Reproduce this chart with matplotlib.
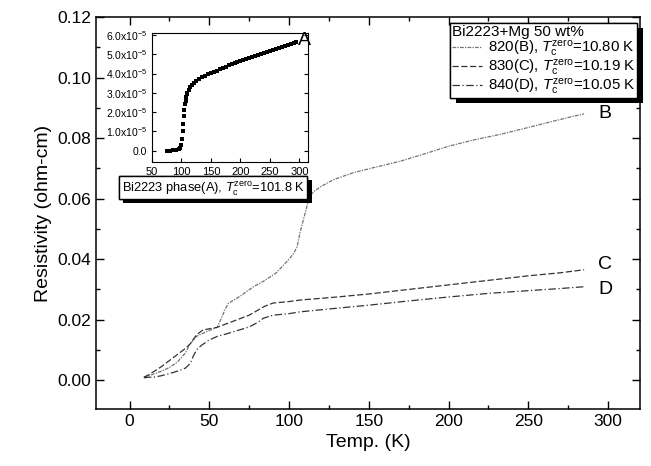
import matplotlib
matplotlib.use("Agg")
import matplotlib.pyplot as plt
import matplotlib.patheffects as pe
from matplotlib.ticker import MultipleLocator, FixedLocator

plt.rcParams["font.family"] = ["Liberation Sans", "DejaVu Sans"]
plt.rcParams["mathtext.fontset"] = "custom"
plt.rcParams["mathtext.rm"] = "Liberation Sans"
plt.rcParams["mathtext.it"] = "Liberation Sans:italic"

# sample B: 820 C
b_temp = [9, 15, 20, 25, 30, 35, 38, 42, 48, 55, 58, 60, 62, 70, 78, 85, 92, 100,
          103, 105, 107, 109, 111, 113, 116, 120, 128, 140, 155, 170, 185, 200,
          215, 233, 250, 265, 275, 285]
b_res = [0.0010, 0.0020, 0.0030, 0.0042, 0.0060, 0.0090, 0.0120, 0.0145, 0.0160,
         0.0175, 0.0210, 0.0235, 0.0254, 0.0280, 0.0310, 0.0330, 0.0355, 0.0400,
         0.0420, 0.0440, 0.0490, 0.0530, 0.0570, 0.0610, 0.0625, 0.0640, 0.0663,
         0.0685, 0.0705, 0.0724, 0.0748, 0.0773, 0.0793, 0.0813, 0.0835, 0.0855,
         0.0868, 0.0880]

# sample C: 830 C
c_temp = [9, 12, 15, 20, 25, 30, 35, 38, 42, 46, 50, 55, 60, 65, 70, 75, 80, 85,
          90, 100, 107, 130, 150, 175, 200, 225, 250, 270, 285]
c_res = [0.0010, 0.0018, 0.0028, 0.0045, 0.0065, 0.0085, 0.0105, 0.0120, 0.0150,
         0.0166, 0.0170, 0.0175, 0.0185, 0.0195, 0.0205, 0.0215, 0.0230, 0.0245,
         0.0255, 0.0260, 0.0265, 0.0275, 0.0285, 0.0300, 0.0315, 0.0330, 0.0345,
         0.0355, 0.0365]

# sample D: 840 C
d_temp = [9, 12, 15, 20, 25, 30, 35, 38, 40, 42, 45, 50, 55, 60, 65, 70, 75, 80,
          84, 90, 100, 107, 130, 150, 175, 200, 225, 250, 270, 285]
d_res = [0.0008, 0.0010, 0.0010, 0.0015, 0.0022, 0.0030, 0.0040, 0.0055, 0.0080,
         0.0100, 0.0115, 0.0133, 0.0145, 0.0152, 0.0160, 0.0168, 0.0176, 0.0190,
         0.0205, 0.0215, 0.0220, 0.0226, 0.0238, 0.0248, 0.0262, 0.0275, 0.0287,
         0.0296, 0.0303, 0.0309]

# inset, pure Bi2223 (A), resistivity in units of 1e-5 ohm-cm
a_temp = [75, 80, 85, 90, 95, 98, 100, 101, 102, 103, 104, 105, 106, 107, 108, 109,
          110, 112, 115, 118, 121, 125, 130, 135, 140, 145, 150, 155, 160, 165,
          170, 175, 180, 185, 190, 195, 200, 205, 210, 215, 220, 225, 230, 235,
          240, 245, 250, 255, 260, 265, 270, 275, 280, 285, 290, 295]
a_res = [0.00, 0.00, 0.02, 0.05, 0.08, 0.15, 0.30, 0.60, 1.00, 1.40, 1.80, 2.10,
         2.40, 2.60, 2.80, 2.92, 3.00, 3.15, 3.30, 3.42, 3.52, 3.62, 3.74, 3.82,
         3.89, 3.96, 4.02, 4.08, 4.15, 4.22, 4.29, 4.36, 4.42, 4.48, 4.54, 4.59,
         4.64, 4.69, 4.74, 4.80, 4.85, 4.90, 4.95, 5.00, 5.05, 5.10, 5.15, 5.21,
         5.26, 5.31, 5.36, 5.42, 5.48, 5.53, 5.58, 5.63]

inset_yticks = [0, 1, 2, 3, 4, 5, 6]
inset_ylabels = ["0.0"] + ["%.1fx10$^{-5}$" % v for v in inset_yticks[1:]]

fig = plt.figure(figsize=(6.51, 4.66), dpi=100)
ax = fig.add_axes([0.1475, 0.1223, 0.8355, 0.8412])

tc = r"$T_{\rm c}^{\rm zero}$"
ax.plot(b_temp, b_res, color="0.45", lw=0.9, ls=(0, (3, 1, 1, 1)),
        label="820(B), " + tc + "=10.80 K")
ax.plot(c_temp, c_res, color="0.2", lw=0.9, ls=(0, (5, 2)),
        label="830(C), " + tc + "=10.19 K")
ax.plot(d_temp, d_res, color="0.2", lw=0.9, ls=(0, (6, 2, 1, 2)),
        label="840(D), " + tc + "=10.05 K")

ax.set_xlim(-21, 320)
ax.set_ylim(-0.0095, 0.12)
ax.xaxis.set_major_locator(MultipleLocator(50))
ax.xaxis.set_minor_locator(MultipleLocator(25))
ax.yaxis.set_major_locator(MultipleLocator(0.02))
ax.yaxis.set_minor_locator(MultipleLocator(0.01))
ax.yaxis.set_major_formatter(matplotlib.ticker.FormatStrFormatter("%.2f"))
ax.tick_params(which="both", direction="in", top=True, right=True, labelsize=12.5)
ax.tick_params(which="major", length=6, width=1)
ax.tick_params(which="minor", length=3, width=1)
for s in ax.spines.values():
    s.set_linewidth(1.1)
ax.set_xlabel("Temp. (K)", fontsize=14)
ax.set_ylabel("Resistivity (ohm-cm)", fontsize=14)

ax.text(294, 0.0880, "B", fontsize=14, va="center")
ax.text(294, 0.0381, "C", fontsize=14, va="center")
ax.text(294, 0.0300, "D", fontsize=14, va="center")

leg = ax.legend(title="Bi2223+Mg 50 wt%", loc="upper right", fontsize=10.8,
                title_fontsize=11, alignment="left", frameon=True, fancybox=False,
                shadow=False, edgecolor="black", framealpha=1, handlelength=2.0,
                handletextpad=0.4, borderpad=0.12, labelspacing=-0.05,
                borderaxespad=0, bbox_to_anchor=(0.995, 0.985))
leg.get_frame().set_linewidth(1.0)
leg.get_frame().set_path_effects([pe.withSimplePatchShadow(offset=(4, -4),
                                  shadow_rgbFace="k", alpha=1.0), pe.Normal()])

t = ax.text(-5, 0.0636, "Bi2223 phase(A), " + tc + "=101.8 K", fontsize=9.3,
            va="center", ha="left",
            bbox=dict(boxstyle="square,pad=0.2", fc="white", ec="black", lw=1.0))
t.get_bbox_patch().set_path_effects([pe.withSimplePatchShadow(offset=(3, -3),
                                     shadow_rgbFace="k", alpha=1.0), pe.Normal()])

ins = fig.add_axes([0.2335, 0.652, 0.24, 0.277])
ins.plot(a_temp, a_res, "s", color="black", ms=2.6, mew=0)
ins.set_xlim(50, 315)
ins.set_ylim(-0.6, 6.1)
ins.xaxis.set_major_locator(MultipleLocator(50))
ins.yaxis.set_major_locator(FixedLocator(inset_yticks))
ins.set_yticklabels(inset_ylabels)
ins.tick_params(which="both", direction="in", labelsize=8, length=3,
                top=False, right=True)
ins.tick_params(axis="y", labelsize=7.5)
ins.text(297, 5.7, "A", fontsize=14, va="center", ha="left")

fig.savefig("out.png", dpi=100)
